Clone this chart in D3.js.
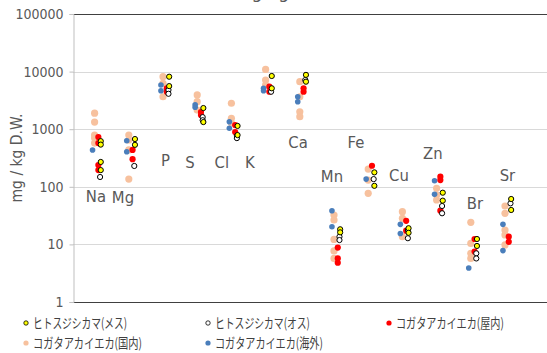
<!DOCTYPE html>
<html>
<head>
<meta charset="utf-8">
<script src="https://cdn.jsdelivr.net/npm/d3@7"></script>
<style>
  html, body { margin: 0; padding: 0; background: #fff; }
  svg { display: block; }
  .num { font-family: "Liberation Sans Narrow", "DejaVu Sans Condensed", "Arial Narrow", sans-serif; fill: #595959; }
  .jp { font-family: "Noto Sans CJK JP", sans-serif; fill: #404040; }
</style>
</head>
<body>
<div id="chart"></div>
<script>
// element names, in plotting order
const categories = ["Na", "Mg", "P", "S", "Cl", "K", "Ca", "Mn", "Fe", "Cu", "Zn", "Br", "Sr"];

// mg / kg D.W., one list per element
const albopictusFemale = [[620, 540, 270, 195], [675, 535], [8150, 5600], [2330, 1330], [1140, 790], [8390, 5130],
  [8770, 6680], [18.3, 16.2], [178, 104], [19.1, 15.9], [79, 57.5], [12.4, 9.4], [61.4, 39.6]];
const albopictusMale = [[148], [230], [4800, 4120], [1620, 1430], [765, 700], [4470],
  [7150], [13.6, 11.9], [136], [17.8, 12.8], [46.4, 34.7], [7.0, 5.7], [51.6]];
const tritaeniorhynchusIndoor = [[730, 575, 239, 195], [437, 302], [5130, 4470], [1990, 1760], [1180, 890], [5480, 4470],
  [5130, 4470], [8.8, 5.7, 4.8], [232], [25.7, 17.3], [150, 131, 38.5], [12.4, 7.5], [13.6, 11.1]];
const tritaeniorhynchusDomestic = [[1900, 1330, 790, 700, 575], [790, 650, 437, 136], [8150, 6270, 3660], [3930, 3000, 2150],
  [2820, 1550, 1290], [10900, 7150, 5850], [6680, 3660, 2000, 1650], [32.4, 26.5, 12.2, 7.7, 5.7], [203, 131, 77],
  [37, 28.4, 13.6], [94, 72, 59], [24.2, 10.4, 7.0, 5.7], [46.4, 34.7, 17.8, 14.6, 9.8]];
const tritaeniorhynchusOverseas = [[435], [630, 405], [5850, 4660], [2650, 2400], [1350, 1040], [5130, 4650],
  [3660, 3000], [38.5, 20.3], [136], [22.3, 15.5], [127, 74], [3.9], [22.3, 7.8]];

const seriesNames = ["ヒトスジシカマ(メス)", "ヒトスジシカマ(オス)", "コガタアカイエカ(屋内)", "コガタアカイエカ(国内)", "コガタアカイエカ(海外)"];
const yTicks = [1, 10, 100, 1000, 10000, 100000];

// where the element name boxes sit (category position, value)
const labelCat = [0.97, 1.76, 3.0, 3.72, 4.65, 5.47, 6.88, 7.87, 8.57, 9.83, 10.82, 12.05, 13.0];
const labelVal = [69, 66, 292, 270, 270, 270, 600, 154, 600, 160, 386, 52, 160];

const width = 547, height = 353;
const svg = d3.select("#chart").append("svg")
  .attr("width", width)
  .attr("height", height);

const x = d3.scaleLinear().domain([1, 13]).range([97, 507.4]);
const y = d3.scaleLog().domain([1, 100000]).range([302, 14]);
const left = 73, right = width;

// title, almost entirely above the top edge (as in the source picture)
svg.append("text")
  .attr("class", "num")
  .attr("x", 228).attr("y", -2.5)
  .attr("font-size", 18)
  .attr("textLength", 68).attr("lengthAdjust", "spacingAndGlyphs")
  .text("(mg/kg)");

// gridlines
svg.append("g").selectAll("line")
  .data(yTicks)
  .join("line")
  .attr("x1", left).attr("x2", right)
  .attr("y1", d => Math.round(y(d)) + 0.5).attr("y2", d => Math.round(y(d)) + 0.5)
  .attr("stroke", d => (d === 1 || d === 100000) ? "#404040" : "#d9d9d9")
  .attr("stroke-width", d => (d === 1 || d === 100000) ? 1.2 : 1);

// y axis
const yAxis = d3.axisLeft(y)
  .tickValues(yTicks)
  .tickFormat(d3.format("d"))
  .tickSize(4)
  .tickPadding(6);
const gy = svg.append("g")
  .attr("transform", "translate(" + (left + 0.5) + ",0)")
  .call(yAxis);
gy.select(".domain").attr("stroke", "#bfbfbf");
gy.selectAll(".tick line").attr("stroke", "#bfbfbf");
gy.selectAll(".tick text")
  .attr("class", "num")
  .attr("font-size", 14)
  .style("fill", "#595959");
gy.attr("font-family", null);

// y axis title
svg.append("text")
  .attr("class", "num")
  .attr("transform", "translate(22,158) rotate(-90)")
  .attr("text-anchor", "middle")
  .attr("font-size", 15.5)
  .text("mg / kg D.W.");

// element name labels
svg.append("g").selectAll("text")
  .data(categories)
  .join("text")
  .attr("class", "num")
  .attr("x", (d, i) => x(labelCat[i]))
  .attr("y", (d, i) => y(labelVal[i]) + 6)
  .attr("text-anchor", "middle")
  .attr("font-size", 16.5)
  .text(d => d);

// series, drawn back to front
const series = [
  {name: seriesNames[3], data: tritaeniorhynchusDomestic, dx: -0.07, r: 3.6, fill: "#f7c19e", stroke: "none"},
  {name: seriesNames[4], data: tritaeniorhynchusOverseas, dx: -0.13, r: 2.8, fill: "#4a7ebb", stroke: "none"},
  {name: seriesNames[2], data: tritaeniorhynchusIndoor, dx: 0.04, r: 3.1, fill: "#ff0000", stroke: "none"},
  {name: seriesNames[1], data: albopictusMale, dx: 0.09, r: 2.6, fill: "#ffffff", stroke: "#000000"},
  {name: seriesNames[0], data: albopictusFemale, dx: 0.11, r: 2.6, fill: "#ffff00", stroke: "#000000"}
];

series.forEach(s => {
  const pts = [];
  s.data.forEach((vals, i) => vals.forEach(v => pts.push({c: i + 1, v: v})));
  svg.append("g").selectAll("circle")
    .data(pts)
    .join("circle")
    .attr("cx", d => x(d.c + s.dx))
    .attr("cy", d => y(d.v))
    .attr("r", s.r)
    .attr("fill", s.fill)
    .attr("stroke", s.stroke)
    .attr("stroke-width", s.stroke === "none" ? 0 : 1);
});

// legend
const legendItems = [
  {name: seriesNames[0], fill: "#ffff00", stroke: "#000000", lx: 26, ly: 323, tl: 94},
  {name: seriesNames[1], fill: "#ffffff", stroke: "#000000", lx: 208, ly: 323, tl: 95},
  {name: seriesNames[2], fill: "#ff0000", stroke: "none", lx: 389, ly: 323, tl: 108},
  {name: seriesNames[3], fill: "#f7c19e", stroke: "none", lx: 26, ly: 343, tl: 109},
  {name: seriesNames[4], fill: "#4a7ebb", stroke: "none", lx: 208, ly: 343, tl: 108}
];
const lg = svg.append("g").selectAll("g")
  .data(legendItems)
  .join("g")
  .attr("transform", d => "translate(" + d.lx + "," + d.ly + ")");
lg.append("circle")
  .attr("r", d => d.stroke === "none" ? 2.6 : 2.2)
  .attr("fill", d => d.fill)
  .attr("stroke", d => d.stroke)
  .attr("stroke-width", 0.8);
// the legend font is condensed: squeeze each label to its width
lg.append("text")
  .attr("class", "jp")
  .attr("font-size", 13.5)
  .text(d => d.name)
  .each(function(d) {
    const w = this.getComputedTextLength();
    d3.select(this).attr("transform", "translate(7,5) scale(" + (d.tl / w) + ",1)");
  });
</script>
</body>
</html>
